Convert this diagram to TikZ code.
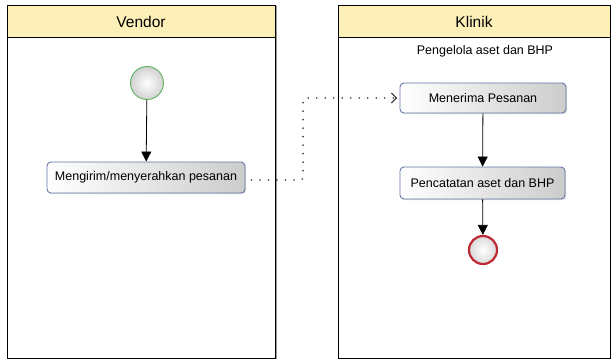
\documentclass[tikz,border=0pt]{standalone}
\usepackage{fontspec}
\setmainfont{Liberation Sans}
\usetikzlibrary{arrows.meta,shadows}
\definecolor{hdr}{RGB}{252,240,184}
\definecolor{boxline}{RGB}{100,118,165}
\definecolor{startline}{RGB}{90,180,90}
\definecolor{endline}{RGB}{190,40,50}
\tikzset{
  lane/.style={draw=black, line width=0.9pt, fill=white},
  lanehdr/.style={draw=black, line width=0.9pt, fill=hdr},
  act/.style={draw=boxline, line width=0.9pt, rounded corners=4pt, left color=white, right color=black!20,
    minimum height=31pt, inner sep=0pt, font=\fontsize{12.5}{14}\selectfont,
    drop shadow={shadow xshift=1.2pt, shadow yshift=-1.2pt, opacity=0.25}},
  flow/.style={draw=black, line width=0.8pt, -{Triangle[length=10pt,width=10pt]}},
  msg/.style={draw=black!80, line width=1.8pt, line cap=round, dash pattern=on 0pt off 8.5pt, rounded corners=3pt},
  msgtip/.style={draw=black!80, line width=0.9pt, -{Straight Barb[length=5pt,width=10pt,line width=0.9pt]}},
}
\begin{document}
\begin{tikzpicture}[x=1pt,y=-1pt]
\useasboundingbox (0,0) rectangle (612,362);
% lanes
\draw[black!40, line width=1pt] (276.5,6) -- (276.5,359);
\draw[lane] (7,5) rectangle (275,358);
\draw[lanehdr] (7,5) rectangle (275,37);
\node[font=\fontsize{15.5}{17}\selectfont] (vendor) at (141,21.5) {Vendor};
\draw[lane] (338,5) rectangle (610,358);
\draw[lanehdr] (338,5) rectangle (610,37);
\node[font=\fontsize{15.5}{17}\selectfont] (klinik) at (474,21.5) {Klinik};
\node[font=\fontsize{12.5}{14}\selectfont] (role) at (485,51.5) {Pengelola aset dan BHP};
% start
\node[circle, draw=startline, line width=0.9pt, minimum size=33pt, inner sep=0pt, inner color=white, outer color=black!18] (start) at (147,83) {};
% activities
\node[act, minimum width=198pt] (kirim) at (146,177.5) {Mengirim/menyerahkan pesanan};
\node[act, minimum width=166pt, minimum height=30pt] (terima) at (483,98) {Menerima Pesanan};
\node[act, minimum width=165pt, minimum height=32pt] (catat) at (482.5,183) {Pencatatan aset dan BHP};
% end
\node[circle, draw=endline, line width=2.2pt, minimum size=28pt, inner sep=0pt, inner color=white, outer color=black!15] (end) at (483,250) {};
% connectors
\draw[flow] (start) -- (kirim);
\draw[flow] (terima) -- (catat);
\draw[flow] (catat) -- (end);
\coordinate (c1) at (303,180);
\coordinate (c2) at (303,98);
\coordinate (c3) at (397,98);
\draw[msg] ([xshift=6pt]kirim.east |- 0,180) -- (c1) -- (c2) -- (c3);
\draw[msgtip] ([xshift=-1pt]c3) -- (c3);
\end{tikzpicture}
\end{document}
